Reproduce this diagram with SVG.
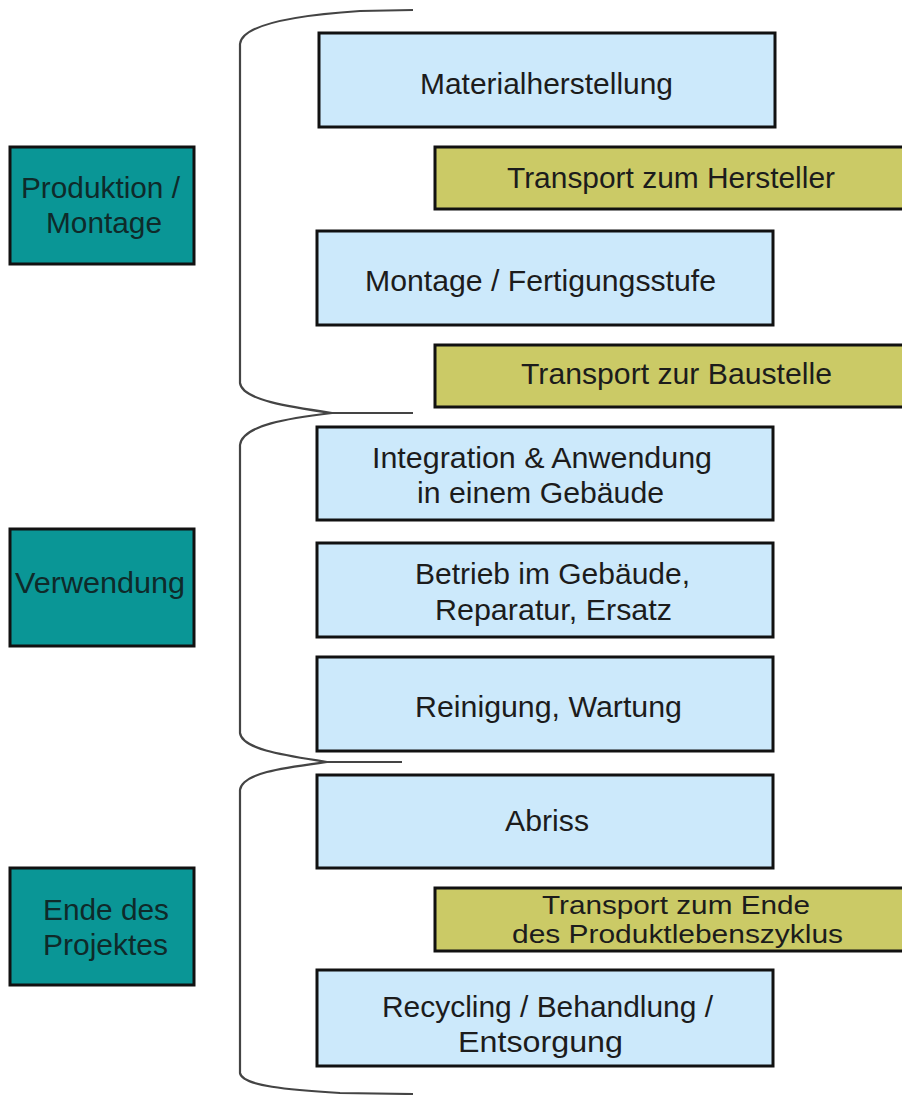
<svg xmlns="http://www.w3.org/2000/svg" width="902" height="1095" viewBox="0 0 902 1095">
<style>
.t{font-family:"Liberation Sans",Arial,sans-serif;font-size:29px;fill:#1c1c1c}
.ts{font-family:"Liberation Sans",Arial,sans-serif;font-size:25px;fill:#1c1c1c}
.tl{font-family:"Liberation Sans",Arial,sans-serif;font-size:29px;fill:#0f2a2a}
.blue{fill:#cce9fb;stroke:#111;stroke-width:3}
.yel{fill:#cbca66;stroke:#111;stroke-width:3}
.teal{fill:#0a9696;stroke:#111;stroke-width:3}
.br{fill:none;stroke:#444;stroke-width:2.2}
</style>
<rect width="902" height="1095" fill="#fff"/>
<g id="connectors">
<path class="br" d="M413,10 L360,11 C300,15 242,24 240,44 L240,383 C242,400 290,407 332,413 L413,413"/>
<path class="br" d="M332,413 C290,418 242,425 240,445 L240,733 C242,750 290,756 327,762 L402,762"/>
<path class="br" d="M327,762 C290,767 242,772 240,790 L240,1073 C242,1086 290,1090 340,1093 L413,1094"/>
</g>
<g id="produktion">
<rect class="teal" x="10" y="147" width="184" height="117"/>
<text class="tl" x="21" y="198" textLength="159" lengthAdjust="spacingAndGlyphs">Produktion /</text>
<text class="tl" x="46" y="233" textLength="116" lengthAdjust="spacingAndGlyphs">Montage</text>
</g>
<g id="verwendung">
<rect class="teal" x="10" y="529" width="184" height="117"/>
<text class="tl" x="15" y="593" textLength="170" lengthAdjust="spacingAndGlyphs">Verwendung</text>
</g>
<g id="ende">
<rect class="teal" x="10" y="868" width="184" height="117"/>
<text class="tl" x="43" y="920" textLength="126" lengthAdjust="spacingAndGlyphs">Ende des</text>
<text class="tl" x="43" y="955" textLength="125" lengthAdjust="spacingAndGlyphs">Projektes</text>
</g>
<g id="materialherstellung">
<rect class="blue" x="319" y="33" width="456" height="94"/>
<text class="t" x="420" y="94" textLength="253" lengthAdjust="spacingAndGlyphs">Materialherstellung</text>
</g>
<g id="transport-hersteller">
<rect class="yel" x="435" y="147" width="481" height="62"/>
<text class="t" x="507" y="188" textLength="328" lengthAdjust="spacingAndGlyphs">Transport zum Hersteller</text>
</g>
<g id="montage">
<rect class="blue" x="317" y="231" width="456" height="94"/>
<text class="t" x="365" y="291" textLength="351" lengthAdjust="spacingAndGlyphs">Montage / Fertigungsstufe</text>
</g>
<g id="transport-baustelle">
<rect class="yel" x="435" y="345" width="481" height="62"/>
<text class="t" x="521" y="384" textLength="311" lengthAdjust="spacingAndGlyphs">Transport zur Baustelle</text>
</g>
<g id="integration">
<rect class="blue" x="317" y="427" width="456" height="93"/>
<text class="t" x="372" y="468" textLength="340" lengthAdjust="spacingAndGlyphs">Integration &amp; Anwendung</text>
<text class="t" x="417" y="503" textLength="247" lengthAdjust="spacingAndGlyphs">in einem Gebäude</text>
</g>
<g id="betrieb">
<rect class="blue" x="317" y="543" width="456" height="94"/>
<text class="t" x="415" y="584" textLength="275" lengthAdjust="spacingAndGlyphs">Betrieb im Gebäude,</text>
<text class="t" x="435" y="620" textLength="237" lengthAdjust="spacingAndGlyphs">Reparatur, Ersatz</text>
</g>
<g id="reinigung">
<rect class="blue" x="317" y="657" width="456" height="94"/>
<text class="t" x="415" y="717" textLength="267" lengthAdjust="spacingAndGlyphs">Reinigung, Wartung</text>
</g>
<g id="abriss">
<rect class="blue" x="317" y="775" width="456" height="93"/>
<text class="t" x="505" y="831" textLength="84" lengthAdjust="spacingAndGlyphs">Abriss</text>
</g>
<g id="transport-ende">
<rect class="yel" x="435" y="888" width="481" height="63"/>
<text class="ts" x="542" y="914" textLength="268" lengthAdjust="spacingAndGlyphs">Transport zum Ende</text>
<text class="ts" x="512" y="943" textLength="331" lengthAdjust="spacingAndGlyphs">des Produktlebenszyklus</text>
</g>
<g id="recycling">
<rect class="blue" x="317" y="970" width="456" height="96"/>
<text class="t" x="382" y="1017" textLength="331" lengthAdjust="spacingAndGlyphs">Recycling / Behandlung /</text>
<text class="t" x="458" y="1052" textLength="165" lengthAdjust="spacingAndGlyphs">Entsorgung</text>
</g>
</svg>
